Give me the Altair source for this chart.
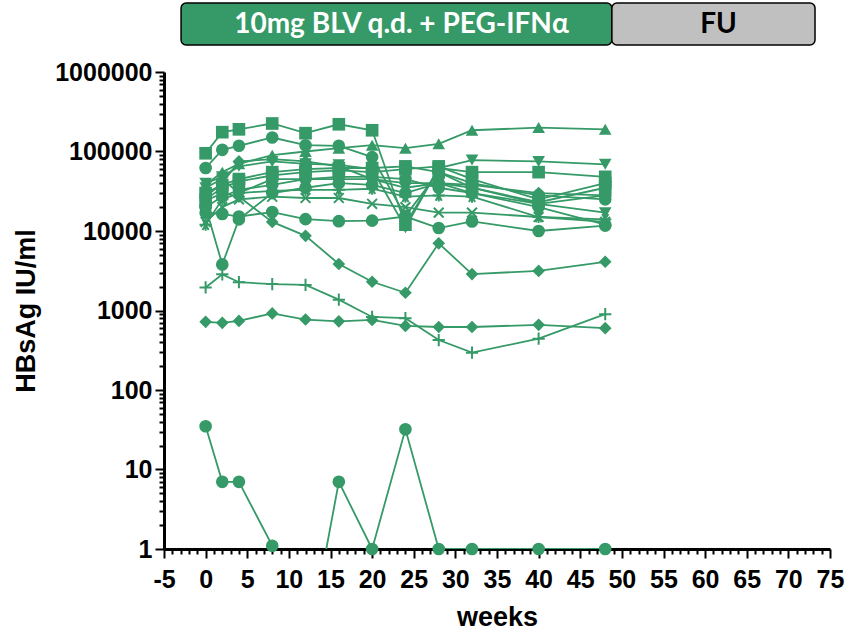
import altair as alt
import pandas as pd

weeks = [0, 2, 4, 8, 12, 16, 20, 24, 28, 32, 40, 48]

# HBsAg (IU/ml) per participant
p01_square = [95000, 175000, 190000, 225000, 170000, 220000, 185000, 12000, 62000, 55000, 55000, 48000]
p02_circle = [62000, 105000, 118000, 150000, 120000, 118000, 85000, 15500, 55000, 40000, 28000, 25000]
p03_triup = [38000, 55000, 70000, 90000, 100000, 110000, 120000, 110000, 125000, 185000, 200000, 190000]
p04_tridown = [40000, 48000, 65000, 75000, 70000, 68000, 60000, 11000, 62000, 78000, 75000, 69000]
p05_square = [25000, 35000, 42000, 50000, 55000, 58000, 55000, 60000, 65000, 45000, 25000, 40000]
p06_circle = [17000, 16400, 15200, 17300, 14100, 13300, 13500, 15200, 10900, 13200, 10000, 11700]
p07_diamond = [24000, 30000, 27000, 13000, 8700, 3850, 2300, 1670, 7000, 2870, 3150, 4100]
p08_diamond = [720, 700, 740, 920, 770, 730, 760, 640, 620, 620, 660, 600]
p09_plus = [1950, 2850, 2270, 2150, 2100, 1370, 830, 800, 425, 295, 442, 900]
p10_circle = [35, 7, 7, 1.1, 0.04, 7, 1, 32, 1, 1, 1, 1]
p11_circle = [20000, 3800, 14000, 30000, 35000, 40000, 38000, 30000, 40000, 35000, 22000, 28000]
p12_asterisk = [12000, 25000, 30000, 32000, 33000, 33000, 34000, 27000, 28000, 27000, 15000, 14000]
p13_x = [13000, 20000, 25000, 27000, 26000, 26000, 22000, 20000, 17000, 17000, 15000, 13000]
p14_square = [30000, 38000, 45000, 55000, 60000, 62000, 62000, 65000, 55000, 35000, 23000, 35000]
p15_tridown = [35000, 45000, 30000, 45000, 45000, 45000, 45000, 35000, 40000, 30000, 22000, 17000]
p16_diamond = [27000, 40000, 75000, 80000, 75000, 65000, 45000, 40000, 40000, 38000, 30000, 28000]
p17_circle = [20000, 27000, 33000, 38000, 45000, 48000, 48000, 45000, 35000, 30000, 20000, 12000]

series = [
    ("P01", "square", p01_square), ("P02", "circle", p02_circle),
    ("P03", "triangle-up", p03_triup), ("P04", "triangle-down", p04_tridown),
    ("P05", "square", p05_square), ("P06", "circle", p06_circle),
    ("P07", "diamond", p07_diamond), ("P08", "diamond", p08_diamond),
    ("P09", "plus", p09_plus), ("P10", "circle", p10_circle),
    ("P11", "circle", p11_circle), ("P12", "asterisk", p12_asterisk),
    ("P13", "x", p13_x), ("P14", "square", p14_square),
    ("P15", "triangle-down", p15_tridown), ("P16", "diamond", p16_diamond),
    ("P17", "circle", p17_circle),
]

phase_labels = ["10mg BLV q.d. + PEG-IFNα", "FU"]
phase_start = [-2.95, 48.8]
phase_end = [48.8, 73.2]
phase_fill = ["#359a67", "#c0c0c0"]
phase_text = ["white", "black"]

rows = []
for pid, shape, vals in series:
    for w, v in zip(weeks, vals):
        rows.append({"pid": pid, "shape": shape, "week": w, "value": v})
df = pd.DataFrame(rows)

phases = pd.DataFrame({
    "label": phase_labels, "x0": phase_start, "x1": phase_end,
    "fill": phase_fill, "tcolor": phase_text,
})
phases["xm"] = (phases["x0"] + phases["x1"]) / 2

GREEN = "#359a67"
PLUS = "M-1,0L1,0M0,-1L0,1"
XS = "M-0.8,-0.8L0.8,0.8M-0.8,0.8L0.8,-0.8"
AST = "M-1,0L1,0M-0.5,-0.87L0.5,0.87M-0.5,0.87L0.5,-0.87M0,-1L0,1"
shape_domain = ["circle", "square", "triangle-up", "triangle-down", "diamond", "plus", "x", "asterisk"]
shape_range = ["circle", "square", "triangle-up", "triangle-down", "diamond", PLUS, XS, AST]

yvals = [m * 10 ** k for k in range(6) for m in range(1, 10)] + [1000000]
xvals = list(range(-5, 76))

xscale = alt.Scale(domain=[-5, 75], nice=False, zero=False)
yscale = alt.Scale(type="log", domain=[1, 1000000], nice=False)

xaxis = alt.Axis(
    values=xvals, title="weeks",
    labelExpr="datum.value % 5 == 0 ? toString(datum.value) : ''",
    tickSize={"condition": {"test": "datum.value % 5 == 0", "value": 9}, "value": 5},
    labelOverlap=False, labelFlush=False, grid=False, labelPadding=9, titlePadding=12,
)
yaxis = alt.Axis(
    values=yvals, title="HBsAg IU/ml", format="d",
    labelExpr="indexof([1,10,100,1000,10000,100000,1000000], datum.value) >= 0 ? datum.label : ''",
    tickSize={"condition": {"test": "indexof([1,10,100,1000,10000,100000,1000000], datum.value) >= 0", "value": 9}, "value": 5},
    labelOverlap=False, labelFlush=False, grid=False, labelPadding=3, titlePadding=14,
)

X = alt.X("week:Q", scale=xscale, axis=xaxis)
Y = alt.Y("value:Q", scale=yscale, axis=yaxis)
S = alt.Shape("shape:N", scale=alt.Scale(domain=shape_domain, range=shape_range), legend=None)

base = alt.Chart(df)

lines = base.mark_line(clip=True, color=GREEN, strokeWidth=1.8).encode(
    x=X, y=Y, detail="pid:N", order="week:Q",
)

filled = base.transform_filter(
    "datum.value >= 1 && indexof(['plus','x','asterisk'], datum.shape) < 0"
).mark_point(filled=True, size=160, opacity=1, color=GREEN).encode(x=X, y=Y, shape=S)

stroked = base.transform_filter(
    "datum.value >= 1 && indexof(['plus','x','asterisk'], datum.shape) >= 0"
).mark_point(filled=False, size=150, opacity=1, color=GREEN, strokeWidth=2).encode(x=X, y=Y, shape=S)

bars = alt.Chart(phases).mark_rect(cornerRadius=5, stroke="black", strokeWidth=1.5).encode(
    x=alt.X("x0:Q", scale=xscale, axis=xaxis),
    x2="x1:Q",
    y=alt.value(-69),
    y2=alt.value(-27),
    color=alt.Color("fill:N", scale=None),
)

bar_text = alt.Chart(phases).mark_text(
    font="Lato", fontWeight="bold", fontSize=28, baseline="middle", align="center", dx=5
).encode(
    x=alt.X("xm:Q", scale=xscale, axis=xaxis),
    y=alt.value(-47),
    text="label:N",
    color=alt.Color("tcolor:N", scale=None),
)

chart = alt.layer(lines, filled, stroked, bars, bar_text).properties(
    width=666, height=477,
    padding={"left": 164, "top": 72, "right": 24, "bottom": 84},
    autosize=alt.AutoSizeParams(type="none"),
).configure_view(stroke=None).configure_axis(
    domainColor="black", domainWidth=3, tickColor="black", tickWidth=2,
    labelFont="Liberation Sans", labelFontWeight="bold", labelFontSize=25, labelColor="black",
    titleFont="Liberation Sans", titleFontWeight="bold", titleFontSize=27, titleColor="black",
)

chart.save("out.html", embed_options={"renderer": "svg", "actions": False})
